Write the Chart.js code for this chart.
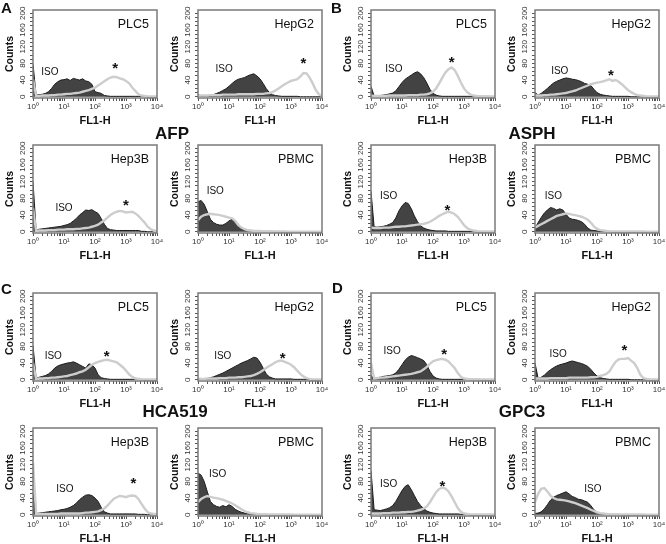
<!DOCTYPE html>
<html>
<head>
<meta charset="utf-8">
<script src="https://cdn.jsdelivr.net/npm/chart.js@4.4.0/dist/chart.umd.min.js"></script>
<style>
  body { margin: 0; background: #fff; overflow: hidden; }
  #fig { position: relative; width: 666px; height: 544px; font-family: Arial, "Liberation Sans", sans-serif; color: #111; }
  #fig canvas { position: absolute; }
  .letter { position: absolute; font-weight: bold; font-size: 15px; line-height: 1; }
  .marker { position: absolute; font-weight: bold; font-size: 17px; line-height: 1; transform: translate(-50%, -50%); }
</style>
</head>
<body>
<div id="fig"></div>
<script>
const cellLines = ['PLC5', 'HepG2', 'Hep3B', 'PBMC'];
const markers = ['AFP', 'ASPH', 'HCA519', 'GPC3'];
const panelLetters = ['A', 'B', 'C', 'D'];

// FL1-H channel centres, one every 0.1 decade
const channels = [1, 1.26, 1.58, 2, 2.51, 3.16, 3.98, 5.01, 6.31, 7.94,
  10, 12.6, 15.8, 20, 25.1, 31.6, 39.8, 50.1, 63.1, 79.4,
  100, 126, 158, 200, 251, 316, 398, 501, 631, 794,
  1000, 1259, 1585, 1995, 2512, 3162, 3981, 5012, 6310, 7943, 10000];
const xTicks = [1, 10, 100, 1000, 10000];
const xTickLabels = ['10⁰', '10¹', '10²', '10³', '10⁴'];
const yTicks = [0, 40, 80, 120, 160, 200];

// AFP
const afpPlc5Iso = [78, 4, 5, 6, 8, 12, 20, 30, 36, 40, 41, 43, 39, 44, 42, 40, 43, 38, 36, 30, 12, 10, 8, 3, 2, 1, 1, 1, 1, 1, 1, 1, 1, 1, 1, 1, 1, 0, 0, 0, 0];
const afpPlc5Stain = [42, 2, 2, 3, 3, 3, 4, 4, 5, 5, 6, 7, 7, 8, 9, 10, 12, 14, 16, 19, 22, 27, 32, 37, 42, 46, 48, 47, 44, 42, 38, 32, 22, 14, 6, 3, 2, 1, 1, 1, 1];
const afpHepg2Iso = [6, 1, 1, 2, 3, 5, 8, 11, 15, 19, 25, 32, 38, 42, 44, 46, 50, 53, 55, 50, 43, 32, 20, 10, 5, 3, 2, 1, 1, 1, 1, 1, 1, 0, 0, 0, 0, 0, 0, 0, 0];
const afpHepg2Stain = [3, 3, 3, 3, 4, 4, 4, 4, 5, 5, 5, 5, 5, 6, 6, 6, 6, 6, 6, 7, 7, 7, 8, 9, 11, 15, 20, 25, 30, 34, 38, 40, 42, 48, 57, 56, 46, 32, 16, 6, 2];
const afpHep3bIso = [120, 4, 6, 7, 8, 9, 10, 11, 12, 13, 15, 17, 20, 26, 32, 40, 46, 52, 51, 53, 48, 44, 32, 18, 8, 5, 4, 3, 3, 3, 3, 3, 3, 3, 3, 1, 1, 0, 0, 0, 0];
const afpHep3bStain = [57, 2, 3, 3, 3, 4, 4, 4, 5, 5, 5, 6, 6, 6, 7, 7, 8, 9, 10, 12, 14, 17, 22, 27, 34, 40, 45, 48, 50, 49, 46, 47, 48, 44, 38, 30, 22, 12, 6, 3, 1];
const afpPbmcIso = [72, 75, 66, 48, 30, 22, 18, 16, 16, 20, 26, 30, 24, 14, 9, 6, 4, 3, 3, 2, 1, 1, 1, 1, 1, 0, 0, 0, 0, 0, 0, 0, 0, 0, 0, 0, 0, 0, 0, 0, 0];
const afpPbmcStain = [28, 36, 40, 42, 43, 42, 41, 40, 38, 36, 34, 32, 26, 16, 10, 6, 4, 3, 2, 2, 2, 1, 1, 1, 1, 1, 1, 1, 1, 0, 0, 0, 0, 0, 0, 0, 0, 0, 0, 0, 0];
const afpIsoAt = [[3.5, 59], [7, 67], [10, 56], [3.6, 96]];
const afpStarAt = [[450, 77], [2500, 89], [1000, 74], null];

// ASPH
const asphPlc5Iso = [25, 2, 3, 3, 4, 5, 7, 9, 14, 24, 34, 42, 47, 52, 57, 60, 55, 46, 33, 18, 8, 4, 2, 1, 1, 1, 1, 1, 1, 1, 1, 1, 1, 1, 1, 1, 1, 1, 1, 0, 0];
const asphPlc5Stain = [3, 2, 2, 2, 2, 2, 3, 3, 3, 3, 3, 3, 4, 4, 4, 4, 5, 5, 6, 8, 12, 20, 32, 46, 58, 66, 70, 64, 50, 34, 20, 11, 6, 3, 2, 1, 1, 1, 1, 1, 1];
const asphHepg2Iso = [10, 4, 8, 14, 20, 27, 33, 37, 40, 43, 45, 44, 42, 41, 39, 36, 32, 30, 27, 18, 10, 6, 4, 3, 2, 1, 1, 1, 1, 1, 1, 0, 0, 0, 0, 0, 0, 0, 0, 0, 0];
const asphHepg2Stain = [3, 3, 3, 4, 4, 5, 5, 6, 7, 8, 9, 11, 13, 15, 18, 21, 24, 27, 30, 32, 34, 35, 37, 39, 42, 38, 40, 36, 30, 23, 16, 11, 7, 4, 3, 2, 1, 1, 1, 1, 1];
const asphHep3bIso = [97, 12, 11, 12, 13, 15, 18, 22, 33, 50, 62, 70, 68, 55, 38, 24, 14, 9, 6, 4, 3, 2, 2, 2, 2, 1, 1, 1, 1, 1, 1, 1, 1, 1, 0, 0, 0, 0, 0, 0, 0];
const asphHep3bStain = [10, 9, 9, 9, 10, 10, 10, 11, 12, 12, 13, 13, 14, 15, 16, 17, 18, 19, 21, 24, 28, 33, 38, 42, 45, 48, 46, 42, 36, 26, 16, 9, 5, 3, 2, 1, 1, 1, 1, 1, 0];
const asphPbmcIso = [8, 22, 34, 45, 52, 58, 56, 52, 55, 52, 42, 33, 30, 29, 27, 24, 18, 9, 4, 3, 2, 1, 1, 1, 1, 0, 0, 0, 0, 0, 0, 0, 0, 0, 0, 0, 0, 0, 0, 0, 0];
const asphPbmcStain = [10, 14, 18, 22, 26, 30, 34, 38, 40, 42, 44, 43, 41, 40, 38, 36, 33, 29, 22, 13, 7, 4, 3, 2, 1, 1, 1, 1, 1, 1, 1, 1, 1, 1, 1, 1, 0, 0, 0, 0, 0];
const asphIsoAt = [[5.5, 67], [6.3, 60], [3.7, 84], [3.9, 85]];
const asphStarAt = [[400, 93], [280, 61], [290, 60], null];

// HCA519
const hcaPlc5Iso = [82, 4, 6, 8, 10, 14, 20, 28, 33, 36, 38, 40, 41, 43, 40, 36, 32, 28, 38, 36, 28, 12, 5, 3, 2, 1, 1, 1, 1, 1, 1, 1, 1, 1, 1, 1, 0, 0, 0, 0, 0];
const hcaPlc5Stain = [40, 2, 3, 3, 4, 4, 5, 5, 6, 7, 8, 9, 11, 13, 15, 18, 20, 24, 30, 36, 40, 43, 45, 47, 48, 46, 44, 42, 36, 30, 22, 13, 7, 3, 2, 1, 1, 1, 1, 1, 1];
const hcaHepg2Iso = [3, 1, 2, 3, 5, 7, 10, 13, 16, 20, 24, 28, 32, 36, 40, 43, 46, 50, 54, 52, 42, 28, 14, 7, 4, 2, 2, 2, 2, 2, 2, 1, 1, 1, 1, 1, 0, 0, 0, 0, 0];
const hcaHepg2Stain = [3, 2, 2, 3, 3, 3, 3, 4, 4, 4, 5, 5, 5, 6, 6, 7, 8, 9, 11, 14, 18, 23, 28, 33, 37, 42, 45, 46, 43, 40, 36, 30, 22, 14, 8, 4, 2, 1, 1, 1, 1];
const hcaHep3bIso = [50, 3, 4, 5, 6, 7, 8, 9, 10, 12, 13, 15, 18, 22, 28, 36, 42, 47, 48, 46, 40, 32, 18, 7, 4, 2, 2, 2, 2, 2, 2, 2, 2, 2, 1, 1, 1, 0, 0, 0, 0];
const hcaHep3bStain = [125, 2, 2, 2, 2, 2, 2, 2, 2, 3, 3, 3, 3, 3, 3, 3, 4, 5, 5, 6, 7, 8, 11, 15, 22, 30, 38, 42, 45, 44, 42, 45, 46, 45, 38, 26, 15, 6, 3, 2, 1];
const hcaPbmcIso = [100, 95, 80, 55, 32, 24, 20, 18, 22, 19, 24, 20, 13, 9, 6, 4, 3, 2, 1, 1, 1, 1, 1, 0, 0, 0, 0, 0, 0, 0, 0, 0, 0, 0, 0, 0, 0, 0, 0, 0, 0];
const hcaPbmcStain = [30, 38, 42, 45, 43, 41, 40, 38, 36, 33, 30, 27, 23, 18, 13, 9, 6, 4, 3, 2, 1, 1, 1, 1, 1, 1, 1, 1, 1, 1, 1, 0, 0, 0, 0, 0, 0, 0, 0, 0, 0];
const hcaIsoAt = [[4.5, 56], [6.3, 56], [10.7, 60], [4.3, 98]];
const hcaStarAt = [[240, 66], [540, 60], [1740, 84], null];

// GPC3
const gpcPlc5Iso = [10, 3, 5, 6, 8, 9, 10, 12, 16, 25, 36, 47, 54, 58, 56, 53, 50, 46, 36, 20, 9, 4, 2, 1, 1, 1, 1, 1, 1, 1, 1, 1, 1, 1, 1, 1, 0, 0, 0, 0, 0];
const gpcPlc5Stain = [40, 3, 4, 5, 5, 6, 7, 8, 9, 10, 11, 12, 13, 14, 16, 18, 20, 25, 31, 38, 44, 47, 49, 50, 48, 44, 36, 28, 16, 7, 3, 2, 1, 1, 1, 1, 1, 1, 1, 1, 1];
const gpcHepg2Iso = [40, 3, 6, 11, 18, 24, 29, 33, 36, 38, 40, 43, 45, 43, 41, 39, 36, 32, 25, 16, 9, 5, 3, 2, 1, 1, 1, 1, 1, 1, 1, 0, 0, 0, 0, 0, 0, 0, 0, 0, 0];
const gpcHepg2Stain = [3, 3, 3, 3, 3, 4, 4, 4, 4, 4, 4, 5, 5, 5, 5, 5, 5, 5, 6, 6, 7, 9, 11, 14, 20, 32, 43, 49, 50, 50, 52, 46, 40, 28, 12, 4, 2, 1, 1, 1, 1];
const gpcHep3bIso = [106, 12, 11, 10, 12, 14, 17, 22, 32, 45, 58, 68, 72, 60, 46, 32, 22, 15, 9, 6, 4, 3, 2, 2, 2, 2, 2, 2, 2, 1, 1, 1, 0, 0, 0, 0, 0, 0, 0, 0, 0];
const gpcHep3bStain = [3, 3, 3, 3, 4, 4, 4, 5, 5, 5, 6, 6, 7, 7, 8, 10, 12, 15, 20, 30, 42, 54, 62, 65, 63, 56, 44, 30, 16, 7, 3, 2, 1, 1, 1, 1, 1, 1, 1, 1, 1];
const gpcPbmcIso = [3, 4, 7, 14, 24, 35, 42, 46, 49, 52, 55, 50, 44, 41, 37, 36, 33, 30, 22, 12, 6, 3, 2, 1, 1, 1, 1, 1, 0, 0, 0, 0, 0, 0, 0, 0, 0, 0, 0, 0, 0];
const gpcPbmcStain = [30, 50, 62, 64, 56, 46, 40, 37, 36, 35, 34, 32, 30, 28, 25, 22, 19, 16, 12, 9, 6, 4, 3, 2, 1, 1, 1, 1, 1, 1, 1, 1, 1, 1, 1, 1, 0, 0, 0, 0, 0];
const gpcIsoAt = [[4.8, 68], [5.6, 62], [3.7, 73], [74, 62]];
const gpcStarAt = [[230, 70], [760, 80], [200, 77], null];

// layout of the 4x4 grid of plot boxes (pixels)
const colLeft = [33, 198, 371, 535];
const rowTop = [10, 145, 293, 428];
const plotW = 124, plotH = 88;
const padL = 33, padT = 6, padR = 8, padB = 30;
const fontFamily = 'Arial, "Liberation Sans", Helvetica, sans-serif';

const panels = [
  { col: 0, row: 0, iso: afpIsoAt, star: afpStarAt,
    series: [[afpPlc5Iso, afpPlc5Stain], [afpHepg2Iso, afpHepg2Stain], [afpHep3bIso, afpHep3bStain], [afpPbmcIso, afpPbmcStain]] },
  { col: 2, row: 0, iso: asphIsoAt, star: asphStarAt,
    series: [[asphPlc5Iso, asphPlc5Stain], [asphHepg2Iso, asphHepg2Stain], [asphHep3bIso, asphHep3bStain], [asphPbmcIso, asphPbmcStain]] },
  { col: 0, row: 2, iso: hcaIsoAt, star: hcaStarAt,
    series: [[hcaPlc5Iso, hcaPlc5Stain], [hcaHepg2Iso, hcaHepg2Stain], [hcaHep3bIso, hcaHep3bStain], [hcaPbmcIso, hcaPbmcStain]] },
  { col: 2, row: 2, iso: gpcIsoAt, star: gpcStarAt,
    series: [[gpcPlc5Iso, gpcPlc5Stain], [gpcHepg2Iso, gpcHepg2Stain], [gpcHep3bIso, gpcHep3bStain], [gpcPbmcIso, gpcPbmcStain]] }
];
const letterPos = [[1, 0], [331, 0], [1, 281], [332, 280]];
const markerPos = [[172, 133], [532, 133], [175, 411], [522, 411]];

// minor tick positions for the axes
const xMinor = [];
for (let d = 1; d < 10000; d *= 10) {
  for (let m = 1; m < 10; m++) xMinor.push(m * d);
}
xMinor.push(10000);
const yMinor = [];
for (let v = 0; v <= 200; v += 10) yMinor.push(v);

// frame, cell line name, ISO and star labels
const notesPlugin = {
  id: 'notes',
  afterDraw(chart, args, opts) {
    const {ctx, chartArea, scales} = chart;
    const x = scales.x, y = scales.y;
    ctx.save();
    ctx.strokeStyle = '#7a7a7a';
    ctx.lineWidth = 1.5;
    ctx.strokeRect(chartArea.left, chartArea.top, chartArea.width, chartArea.height);

    ctx.fillStyle = '#111';
    ctx.font = '12.5px ' + fontFamily;
    ctx.textAlign = 'right';
    ctx.textBaseline = 'middle';
    ctx.fillText(opts.name, chartArea.right - 8, chartArea.top + 15);

    ctx.font = '10px ' + fontFamily;
    ctx.textAlign = 'center';
    ctx.fillText('ISO', x.getPixelForValue(opts.iso[0]), y.getPixelForValue(opts.iso[1]));

    if (opts.star) {
      ctx.font = 'bold 15px ' + fontFamily;
      ctx.textBaseline = 'alphabetic';
      ctx.fillText('*', x.getPixelForValue(opts.star[0]), y.getPixelForValue(opts.star[1]) + 8.7);
    }
    ctx.restore();
  }
};

const fig = document.getElementById('fig');

function drawHistogram(panel, k) {
  const col = panel.col + (k % 2);
  const row = panel.row + Math.floor(k / 2);
  const canvas = document.createElement('canvas');
  canvas.width = padL + plotW + padR;
  canvas.height = padT + plotH + padB;
  canvas.style.left = (colLeft[col] - padL) + 'px';
  canvas.style.top = (rowTop[row] - padT) + 'px';
  fig.appendChild(canvas);

  const iso = panel.series[k][0];
  const stain = panel.series[k][1];

  new Chart(canvas, {
    type: 'line',
    data: {
      datasets: [
        {
          data: channels.map((c, i) => ({x: c, y: stain[i]})),
          borderColor: '#cdcdcd',
          borderWidth: 2.4,
          fill: false,
          tension: 0,
          pointRadius: 0
        },
        {
          data: channels.map((c, i) => ({x: c, y: iso[i]})),
          borderColor: '#1c1c1c',
          borderWidth: 1,
          backgroundColor: '#434343',
          fill: 'origin',
          tension: 0,
          pointRadius: 0
        }
      ]
    },
    options: {
      responsive: false,
      animation: false,
      devicePixelRatio: 1,
      events: [],
      layout: { padding: { top: padT, right: padR, left: 0, bottom: 0 } },
      plugins: {
        legend: { display: false },
        tooltip: { enabled: false },
        notes: { name: cellLines[k], iso: panel.iso[k], star: panel.star[k] }
      },
      scales: {
        x: {
          type: 'logarithmic',
          min: 1,
          max: 10000,
          afterBuildTicks: s => { s.ticks = xMinor.map(v => ({value: v})); },
          afterFit: s => { s.height = padB; },
          border: { display: false },
          grid: { drawOnChartArea: false, tickLength: 3, color: '#555' },
          ticks: {
            autoSkip: false, minRotation: 0, maxRotation: 0, padding: 1,
            color: '#333', font: { size: 8, family: fontFamily },
            callback: v => {
              const n = xTicks.indexOf(v);
              return n < 0 ? '' : xTickLabels[n];
            }
          },
          title: {
            display: true, text: 'FL1-H', color: '#111',
            font: { size: 11, weight: 'bold', family: fontFamily },
            padding: { top: 0, bottom: 0 }
          }
        },
        y: {
          min: -3,
          max: 208,
          afterBuildTicks: s => { s.ticks = yMinor.map(v => ({value: v})); },
          afterFit: s => { s.width = padL; },
          border: { display: false },
          grid: { drawOnChartArea: false, tickLength: 3, color: '#555' },
          ticks: {
            autoSkip: false, minRotation: 90, maxRotation: 90, crossAlign: 'center', padding: 1,
            color: '#333', font: { size: 8, family: fontFamily },
            callback: v => yTicks.includes(v) ? String(v) : ''
          },
          title: {
            display: true, text: 'Counts', color: '#111',
            font: { size: 10.5, weight: 'bold', family: fontFamily },
            padding: { top: 4, bottom: 0 }
          }
        }
      }
    },
    plugins: [notesPlugin]
  });
}

panels.forEach(panel => {
  for (let k = 0; k < 4; k++) drawHistogram(panel, k);
});

panelLetters.forEach((t, i) => {
  const d = document.createElement('div');
  d.className = 'letter';
  d.textContent = t;
  d.style.left = letterPos[i][0] + 'px';
  d.style.top = letterPos[i][1] + 'px';
  fig.appendChild(d);
});
markers.forEach((t, i) => {
  const d = document.createElement('div');
  d.className = 'marker';
  d.textContent = t;
  d.style.left = markerPos[i][0] + 'px';
  d.style.top = markerPos[i][1] + 'px';
  fig.appendChild(d);
});
</script>
</body>
</html>
